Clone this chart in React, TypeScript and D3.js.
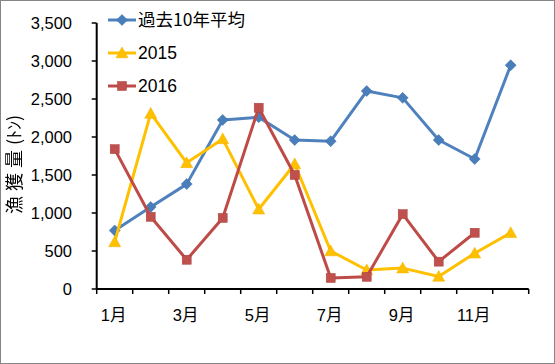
import React from "react";
import * as d3 from "d3";

const months = ["1月","2月","3月","4月","5月","6月","7月","8月","9月","10月","11月","12月"];
const avg10 = [770, 1080, 1380, 2225, 2260, 1960, 1945, 2605, 2515, 1960, 1710, 2945];
const y2015 = [620, 2310, 1660, 1975, 1050, 1645, 500, 250, 275, 165, 470, 740];
const y2016: (number | null)[] = [1840, 950, 385, 935, 2385, 1500, 145, 160, 985, 360, 740, null];
const yTicks = [0, 500, 1000, 1500, 2000, 2500, 3000, 3500];
const seriesNames = ["過去10年平均", "2015", "2016"];

const W = 555, H = 364;
const left = 96.7, right = 528.7, top = 23, bottom = 289;
const FONT = "'Liberation Sans', 'Noto Sans CJK JP', sans-serif";
const JP = "'Noto Sans CJK JP', sans-serif";

export default function App() {
  const x = d3.scaleBand<string>().domain(months).range([left, right]);
  const y = d3.scaleLinear().domain([0, 3500]).range([bottom, top]);
  const cx = (m: string) => (x(m) ?? 0) + x.bandwidth() / 2;
  const line = d3.line<[string, number | null]>()
    .defined(d => d[1] != null)
    .x(d => cx(d[0]))
    .y(d => y(d[1] as number));

  const series = [
    { name: seriesNames[0], data: avg10 as (number | null)[], color: "#4a7ebb", stroke: "#4f81bd", marker: "diamond" },
    { name: seriesNames[1], data: y2015 as (number | null)[], color: "#ffc000", stroke: "#ffc000", marker: "triangle" },
    { name: seriesNames[2], data: y2016, color: "#c0504d", stroke: "#be4b48", marker: "square" },
  ];

  const marker = (type: string, px: number, py: number, color: string, key: string | number) => {
    if (type === "diamond") {
      const s = 5.5;
      return <path key={key} d={`M${px},${py - s}L${px + s},${py}L${px},${py + s}L${px - s},${py}Z`} fill={color} stroke="#3a6ea5" strokeWidth={0.5} />;
    }
    if (type === "triangle") {
      const s = 6;
      return <path key={key} d={`M${px},${py - s}L${px + s},${py + s * 0.8}L${px - s},${py + s * 0.8}Z`} fill={color} stroke="#f0b000" strokeWidth={0.5} />;
    }
    const s = 4.5;
    return <rect key={key} x={px - s} y={py - s} width={2 * s} height={2 * s} fill={color} stroke="#a8403d" strokeWidth={0.5} />;
  };

  const legendY = [20, 53, 86];

  return (
    <svg width={W} height={H} style={{ position: "fixed", left: 0, top: 0 }} fontFamily={FONT}>
      <rect x={0.5} y={0.5} width={W - 1} height={H - 1} fill="#fff" stroke="#868686" strokeWidth={1} />
      {/* y axis */}
      <line x1={left} x2={left} y1={top} y2={bottom} stroke="#000" strokeWidth={2} />
      {yTicks.map(t => (
        <g key={t}>
          <line x1={left - 5} x2={left} y1={y(t)} y2={y(t)} stroke="#000" strokeWidth={1.5} />
          <text x={72} y={y(t)} dy="0.36em" textAnchor="end" fontSize={16.5} fill="#000">{d3.format(",")(t)}</text>
        </g>
      ))}
      {/* x axis */}
      <line x1={left} x2={right} y1={bottom} y2={bottom} stroke="#000" strokeWidth={2} />
      {[...months.map(m => x(m) as number), right].map((v, i) => (
        <line key={i} x1={v} x2={v} y1={bottom} y2={bottom + 5} stroke="#000" strokeWidth={1.5} />
      ))}
      {months.map((m, i) => i % 2 === 0 ? (
        <text key={m} x={cx(m) - 1} y={321} textAnchor="middle" fontSize={16.5} fill="#000">{m}</text>
      ) : null)}
      {/* y title */}
      <text transform={`translate(21,214) rotate(-90)`} textAnchor="start" fontSize={18} fill="#000" fontFamily={JP}>
        <tspan letterSpacing={5}>漁獲量</tspan><tspan>(ﾄﾝ)</tspan>
      </text>
      {/* series */}
      {series.map((s, si) => {
        const pts = months.map((m, i) => [m, s.data[i]] as [string, number | null]);
        return (
          <g key={si}>
            <path d={line(pts) ?? ""} fill="none" stroke={s.stroke} strokeWidth={3} strokeLinejoin="round" />
            {pts.filter(p => p[1] != null).map((p, i) => marker(s.marker, cx(p[0]), y(p[1] as number), s.color, i))}
          </g>
        );
      })}
      {/* legend */}
      {series.map((s, si) => (
        <g key={si}>
          <line x1={108} x2={136} y1={legendY[si]} y2={legendY[si]} stroke={s.stroke} strokeWidth={3} />
          {marker(s.marker, 122, legendY[si], s.color, "m" + si)}
          <text x={138} y={legendY[si]} dy="0.36em" fontSize={17.5} fill="#000" fontFamily={si === 0 ? JP : FONT}>{s.name}</text>
        </g>
      ))}
    </svg>
  );
}
